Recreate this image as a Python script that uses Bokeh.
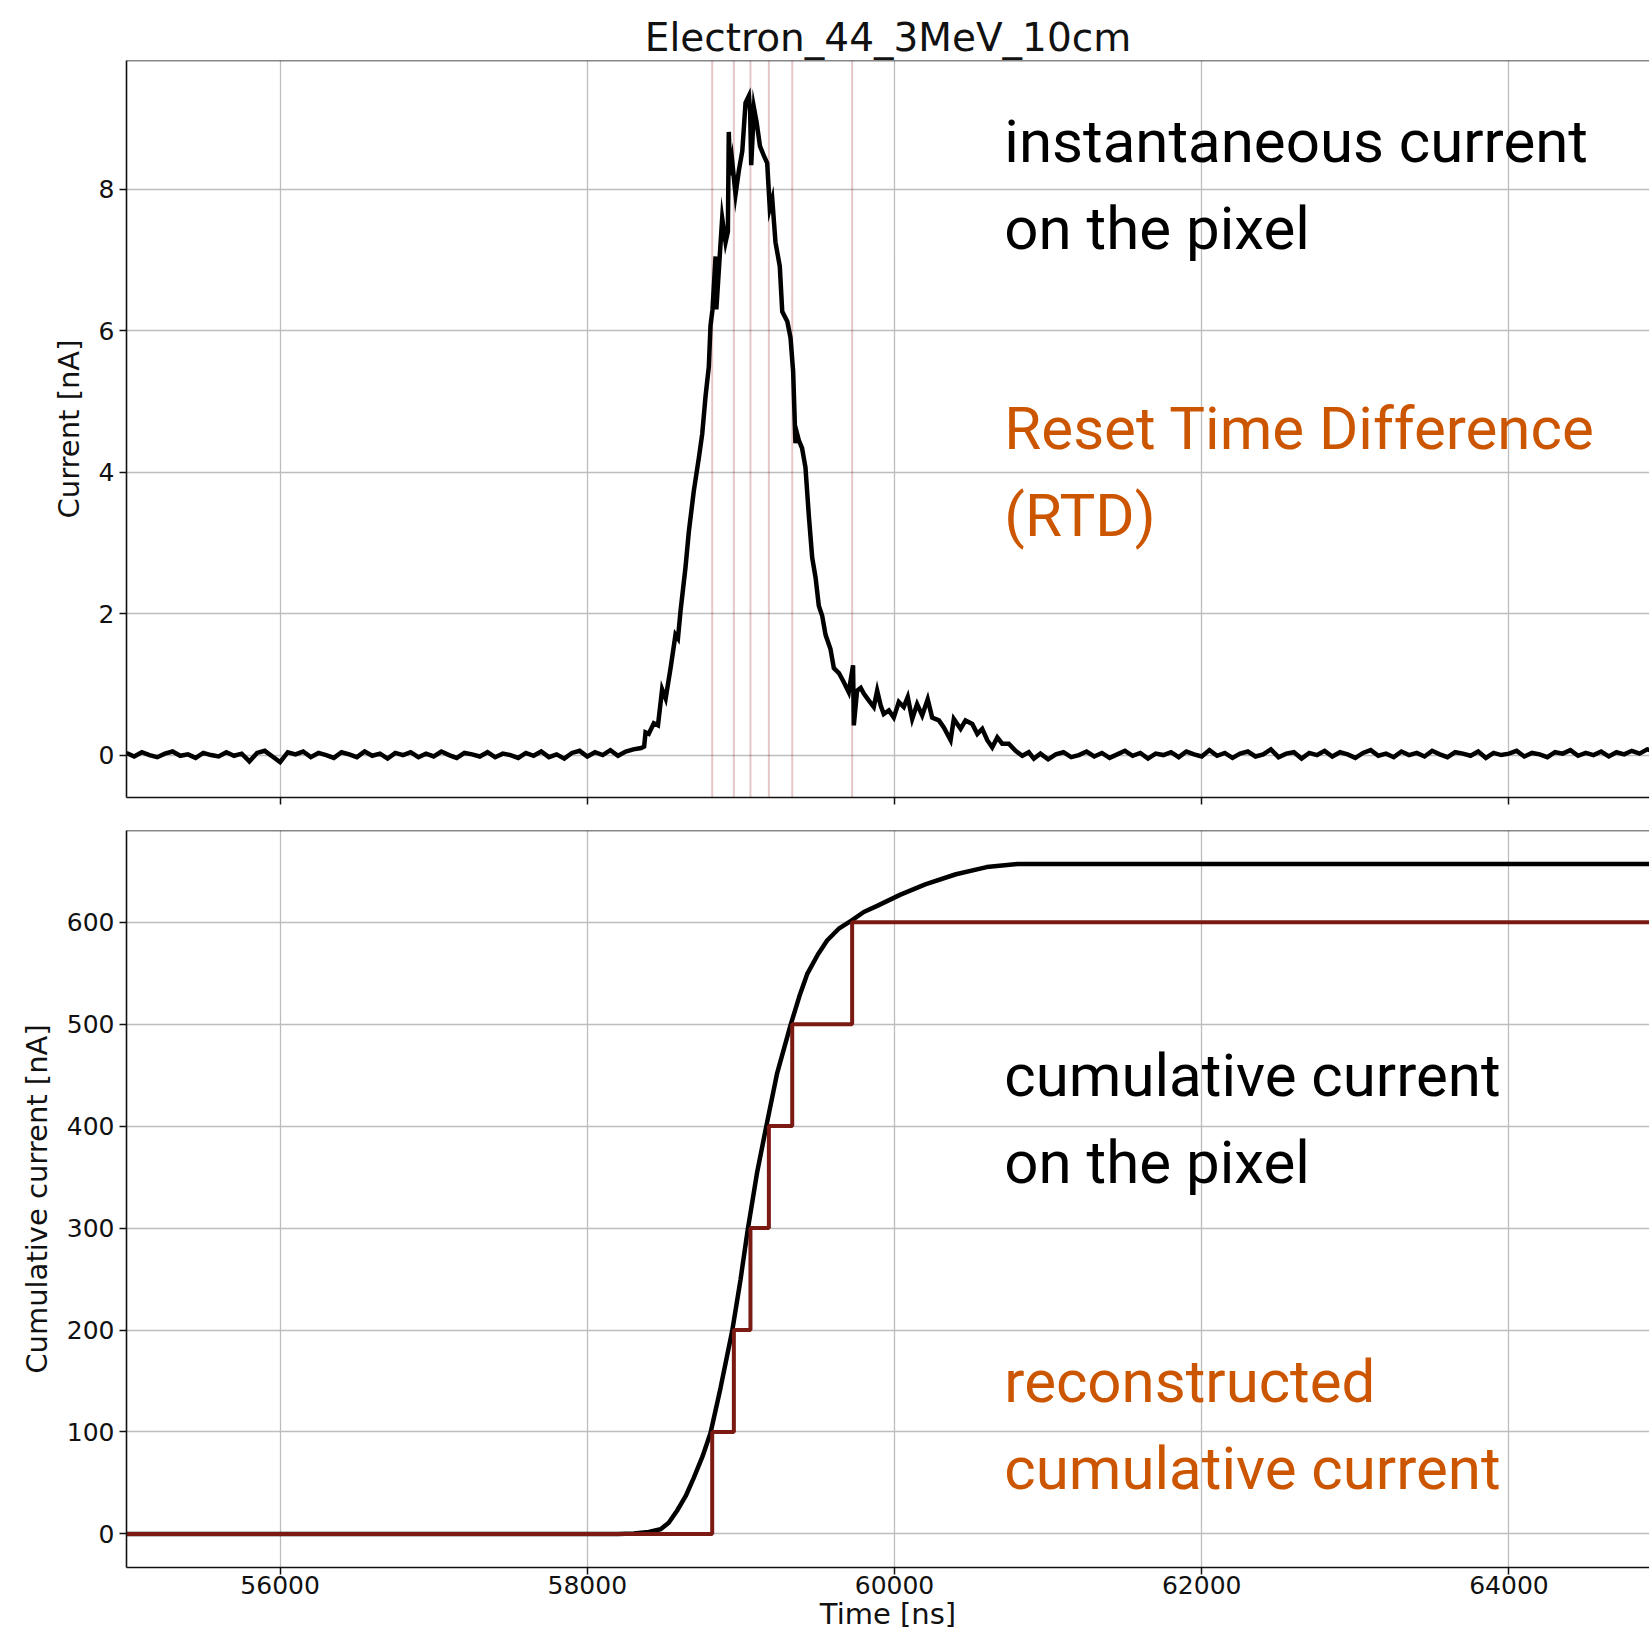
from bokeh.plotting import figure
from bokeh.layouts import column
from bokeh.models import Range1d, FixedTicker, Span, Label
from bokeh.embed import file_html
from bokeh.resources import INLINE

# ---------------- data ----------------
TITLE = "Electron_44_3MeV_10cm"
X_TICKS = [56000, 58000, 60000, 62000, 64000]
Y1_TICKS = [0, 2, 4, 6, 8]
Y2_TICKS = [0, 100, 200, 300, 400, 500, 600]

# baseline before the pulse, sampled every 50 ns from 55000 ns
BASE_LEFT_START = 55000
BASE_STEP = 50
base_left = [0.03, -0.02, 0.04, 0.00, -0.03, 0.02, 0.05, -0.01, 0.01, -0.04,
             0.03, 0.00, -0.02, 0.04, -0.01, 0.02, -0.09, 0.03, 0.06, -0.02,
             -0.10, 0.04, 0.01, 0.05, -0.03, 0.03, 0.00, -0.04, 0.04, 0.01,
             -0.03, 0.05, -0.01, 0.02, -0.05, 0.03, 0.00, 0.04, -0.03, 0.02,
             -0.02, 0.05, 0.00, -0.04, 0.03, 0.01, -0.02, 0.04, -0.03, 0.02,
             0.00, -0.04, 0.03, -0.01, 0.05, -0.03, 0.01, -0.05, 0.03, 0.06,
             -0.02, 0.04, 0.00, 0.07, -0.01, 0.05, 0.08, 0.10]

# the pulse itself
peak_t = [58370, 58379, 58400, 58433, 58460, 58487, 58510, 58542, 58574, 58590,
          58607, 58639, 58661, 58693, 58726, 58748, 58770, 58791, 58802, 58815,
          58835, 58840, 58856, 58878, 58900, 58915, 58921, 58930, 58943, 58965,
          58987, 59009, 59030, 59052, 59060, 59067, 59085, 59102, 59124, 59150,
          59171, 59188, 59204, 59225, 59253, 59269, 59302, 59323, 59340, 59355,
          59365, 59377, 59398, 59420, 59442, 59464, 59486, 59507, 59529, 59551,
          59583, 59605, 59638, 59670, 59702, 59730, 59735, 59756, 59780, 59800,
          59833, 59865, 59887, 59910, 59930, 59963, 59995, 60028, 60060, 60086,
          60115, 60147, 60180, 60216, 60245, 60289, 60321, 60365, 60386, 60430,
          60462, 60506, 60539, 60571, 60604, 60636, 60669, 60701, 60744, 60788,
          60832, 60874, 60907]
peak_i = [0.12, 0.32, 0.30, 0.45, 0.42, 0.93, 0.80, 1.23, 1.70, 1.65,
          2.04, 2.65, 3.16, 3.73, 4.20, 4.54, 5.08, 5.49, 6.07, 6.30,
          7.05, 6.30, 6.85, 7.59, 7.25, 7.40, 8.81, 8.20, 8.40, 7.93,
          8.27, 8.54, 9.22, 9.32, 9.10, 8.34, 9.15, 8.95, 8.61, 8.47,
          8.37, 7.73, 7.86, 7.25, 6.91, 6.27, 6.13, 5.90, 5.42, 4.41,
          4.55, 4.45, 4.34, 4.07, 3.39, 2.79, 2.51, 2.11, 1.97, 1.70,
          1.50, 1.23, 1.16, 1.03, 0.89, 1.27, 0.42, 0.91, 0.95, 0.87,
          0.77, 0.68, 0.91, 0.70, 0.58, 0.63, 0.53, 0.75, 0.68, 0.82,
          0.51, 0.72, 0.56, 0.79, 0.53, 0.49, 0.39, 0.21, 0.51, 0.37,
          0.49, 0.44, 0.30, 0.37, 0.21, 0.11, 0.25, 0.16, 0.16, 0.06,
          -0.01, 0.04, -0.05]

# baseline after the pulse, every 50 ns from 60950 ns
BASE_RIGHT_START = 60950
base_right = [0.02, -0.06, 0.01, 0.04, -0.03, 0.00, 0.05, -0.02, 0.03, -0.04,
              0.01, 0.06, -0.01, 0.03, -0.05, 0.02, 0.00, 0.04, -0.03, 0.05,
              0.01, -0.02, 0.07, -0.01, 0.03, -0.04, 0.02, 0.05, -0.02, 0.01,
              0.08, -0.03, 0.02, 0.04, -0.05, 0.03, 0.00, 0.06, -0.02, 0.04,
              0.01, -0.04, 0.03, 0.07, -0.01, 0.02, -0.03, 0.05, 0.00, 0.03,
              -0.02, 0.06, 0.01, -0.03, 0.04, 0.02, -0.01, 0.05, -0.04, 0.03,
              0.00, 0.02, 0.06, -0.02, 0.03, 0.01, -0.03, 0.04, 0.02, 0.07,
              -0.01, 0.03, 0.00, 0.05, -0.02, 0.04, 0.01, 0.06, 0.02, 0.08, 0.05]

# reset times and reconstructed cumulative levels
reset_times = [58813, 58954, 59062, 59182, 59334, 59724]
reset_levels = [100, 200, 300, 400, 500, 600]

# cumulative current curve
cum_t = [55000, 58200, 58303, 58400, 58477, 58530, 58585, 58640, 58693, 58750,
         58802, 58867, 58943, 58997, 59045, 59106, 59164, 59236, 59323, 59380,
         59431, 59500, 59561, 59640, 59724, 59800, 59887, 60039, 60200, 60400,
         60600, 60800, 65000]
cum_v = [0, 0, 0.5, 2, 4.6, 11, 23, 37, 55, 76,
         99, 143, 199, 249, 299, 355, 399, 452, 499, 527,
         549, 568, 582, 594, 602, 610, 616, 627, 637, 647,
         654, 657, 657]

X_START, X_END = 55000, 64915
Y1_RANGE = (-0.6, 9.82)
Y2_RANGE = (-32.9, 689.9)

# ---------------- assemble series ----------------
cur_t = ([BASE_LEFT_START + BASE_STEP * i for i in range(len(base_left))]
         + peak_t
         + [BASE_RIGHT_START + BASE_STEP * i for i in range(len(base_right))])
cur_i = base_left + peak_i + base_right

step_x = [X_START] + reset_times + [65000]
step_y = [0] + reset_levels + [reset_levels[-1]]

ORANGE = "#CC5500"
DARKRED = "#7B1A12"
TICK_FONT = "DejaVu Sans"
NOTE_FONT = "Roboto"
NOTE_SIZE = "60px"


def style(p, yticks):
    p.outline_line_color = None
    p.background_fill_color = "white"
    p.border_fill_color = "white"
    p.xaxis.ticker = FixedTicker(ticks=X_TICKS)
    p.yaxis.ticker = FixedTicker(ticks=yticks)
    p.xgrid.ticker = FixedTicker(ticks=X_TICKS)
    p.ygrid.ticker = FixedTicker(ticks=yticks)
    p.grid.grid_line_color = "#bdbdbd"
    p.grid.grid_line_width = 1.3
    for ax in (p.xaxis, p.yaxis):
        ax.axis_line_color = "#111111"
        ax.axis_line_width = 1.6
        ax.major_tick_line_color = "#111111"
        ax.major_tick_line_width = 1.5
        ax.major_tick_in = 0
        ax.major_tick_out = 7
        ax.minor_tick_line_color = None
        ax.major_label_text_font = TICK_FONT
        ax.major_label_text_font_size = "25px"
        ax.major_label_text_color = "#111111"
        ax.axis_label_text_font = TICK_FONT
        ax.axis_label_text_font_size = "29px"
        ax.axis_label_text_font_style = "normal"
        ax.axis_label_text_color = "#111111"
    p.yaxis.major_label_standoff = 5
    p.yaxis.axis_label_standoff = 10
    p.xaxis.major_label_standoff = 1
    p.xaxis.axis_label_standoff = 0


# ---------------- top figure ----------------
p1 = figure(width=1649, height=813,
            x_range=Range1d(X_START, X_END), y_range=Range1d(*Y1_RANGE),
            output_backend="svg", toolbar_location=None,
            min_border_left=126, min_border_right=0,
            min_border_top=60, min_border_bottom=16)
style(p1, Y1_TICKS)
p1.yaxis.axis_label = "Current [nA]"
p1.xaxis.major_label_text_font_size = "0px"
p1.xaxis.major_label_overrides = {t: "" for t in X_TICKS}
p1.title.text = TITLE
p1.title.align = "center"
p1.title.text_font = TICK_FONT
p1.title.text_font_size = "39px"
p1.title.text_font_style = "normal"
p1.title.text_color = "#111111"
p1.title.standoff = 2

for t in reset_times:
    p1.add_layout(Span(location=t, dimension="height", line_color="#8B0000",
                       line_alpha=0.22, line_width=2, level="underlay"))
p1.line(cur_t, cur_i, line_color="black", line_width=4.5, line_join="miter")
p1.add_layout(Span(location=Y1_RANGE[1], dimension="width",
                   line_color="#111111", line_width=1.6))

for txt, y, col in [("instantaneous current", 8.68, "black"),
                    ("on the pixel", 7.44, "black"),
                    ("Reset Time Difference", 4.62, ORANGE),
                    ("(RTD)", 3.38, ORANGE)]:
    p1.add_layout(Label(x=60715, y=y, text=txt, text_font=NOTE_FONT,
                        text_font_size=NOTE_SIZE, text_color=col,
                        text_baseline="alphabetic", text_align="left"))

# ---------------- bottom figure ----------------
p2 = figure(width=1649, height=826,
            x_range=Range1d(X_START, X_END), y_range=Range1d(*Y2_RANGE),
            output_backend="svg", toolbar_location=None,
            min_border_left=126, min_border_right=0,
            min_border_top=17, min_border_bottom=72)
style(p2, Y2_TICKS)
p2.yaxis.axis_label = "Cumulative current [nA]"
p2.xaxis.axis_label = "Time [ns]"

p2.line(cum_t, cum_v, line_color="black", line_width=4.5)
p2.step(step_x, step_y, mode="after", line_color=DARKRED, line_width=4)
p2.add_layout(Span(location=Y2_RANGE[1], dimension="width",
                   line_color="#111111", line_width=1.6))

for txt, y, col in [("cumulative current", 449.5, "black"),
                    ("on the pixel", 364.5, "black"),
                    ("reconstructed", 150, ORANGE),
                    ("cumulative current", 64.5, ORANGE)]:
    p2.add_layout(Label(x=60715, y=y, text=txt, text_font=NOTE_FONT,
                        text_font_size=NOTE_SIZE, text_color=col,
                        text_baseline="alphabetic", text_align="left"))

layout = column(p1, p2, spacing=0)
open("out.html", "w").write(file_html(layout, INLINE))
